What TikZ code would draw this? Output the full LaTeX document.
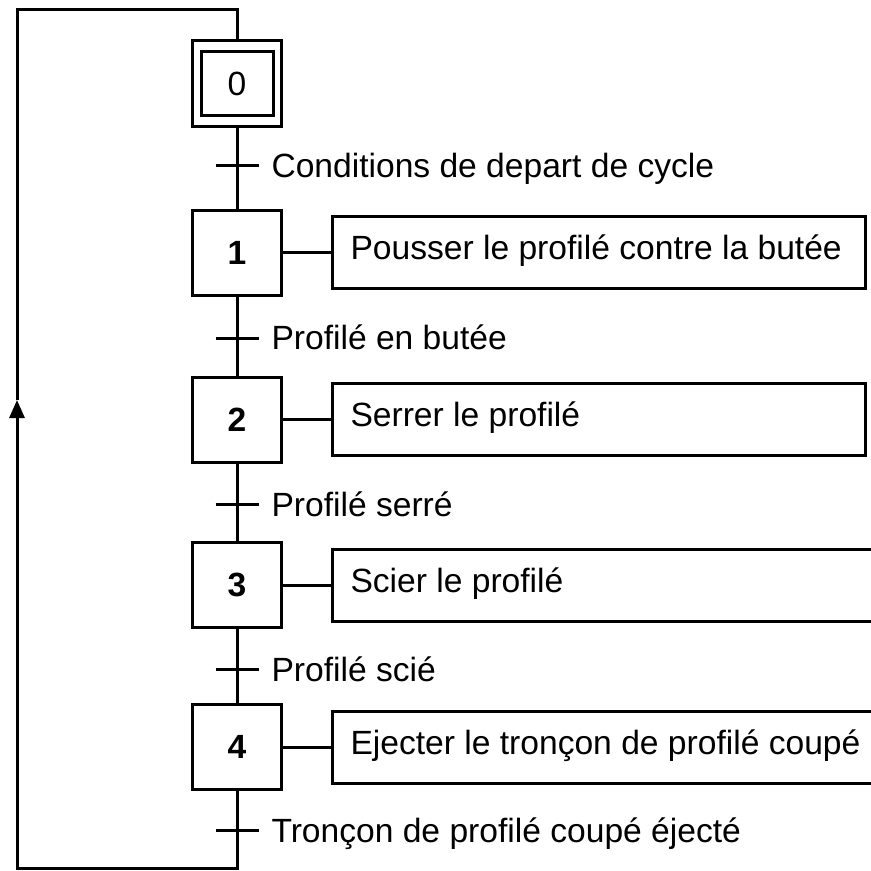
\documentclass[tikz,border=0pt]{standalone}
\usepackage{fontspec}
\setmainfont{Liberation Sans}
\usetikzlibrary{calc, positioning, arrows.meta}

\newcommand{\taille}{\fontsize{16.8}{20}\selectfont}

\tikzset{
  etape/.style={draw, inner sep=0pt, minimum width=44.5pt, minimum height=42.5pt, font=\taille\bfseries},
  action/.style={draw, anchor=west, inner xsep=9pt, minimum height=36pt,
    text height=12pt, text depth=5pt},
  recept/.style={anchor=base west, inner sep=0pt},
  boucle/.style={-{Triangle[length=9pt, width=7.5pt]}}
}

\begin{document}
\begin{tikzpicture}[x=0.5pt, y=-0.5pt, line width=1.5pt,
  every node/.style={font=\taille}]
\useasboundingbox (0,0) rectangle (871,871);
\clip (0,0) rectangle (871,871);

% etape initiale
\node[draw, minimum width=44.5pt, minimum height=43pt] (e0) at (237,84) {};
\node[draw, minimum width=36pt, minimum height=32pt] (e0in) at (237,84) {0};

% etapes
\foreach \n/\y in {1/253, 2/419.5, 3/585, 4/747} {
  \node[etape] (e\n) at (237,\y) {\n};
}

% actions
\foreach \n/\w/\txt in {1/248.5/Pousser le profilé contre la butée,
                        2/248.5/Serrer le profilé,
                        3/290/Scier le profilé,
                        4/290/Ejecter le tronçon de profilé coupé} {
  \node[action, right=24pt of e\n] (a\n) {\makebox[\w pt][l]{\txt}};
  \draw (e\n.east) -- (a\n.west);
}

% liaisons
\draw (e0) -- (e1);
\draw (e1) -- (e2);
\draw (e2) -- (e3);
\draw (e3) -- (e4);

% transitions
\foreach \n/\y/\txt in {0/166/Conditions de depart de cycle,
                        1/338/Profilé en butée,
                        2/504/Profilé serré,
                        3/669/Profilé scié,
                        4/830/Tronçon de profilé coupé éjecté} {
  \coordinate (t\n) at (237,\y);
  \draw ($(t\n)+(-21.5,0)$) -- ($(t\n)+(21.5,0)$);
  \node[recept] (r\n) at ($(t\n)+(33,12)$) {\txt};
}

% retour
\coordinate (bas) at (17,868);
\coordinate (fleche) at (17,400);
\coordinate (haut) at (17,10);
\draw[boucle] (e4.south) |- (bas) -- (fleche);
\draw (fleche) -- (haut) -| (e0.north);

\end{tikzpicture}
\end{document}
